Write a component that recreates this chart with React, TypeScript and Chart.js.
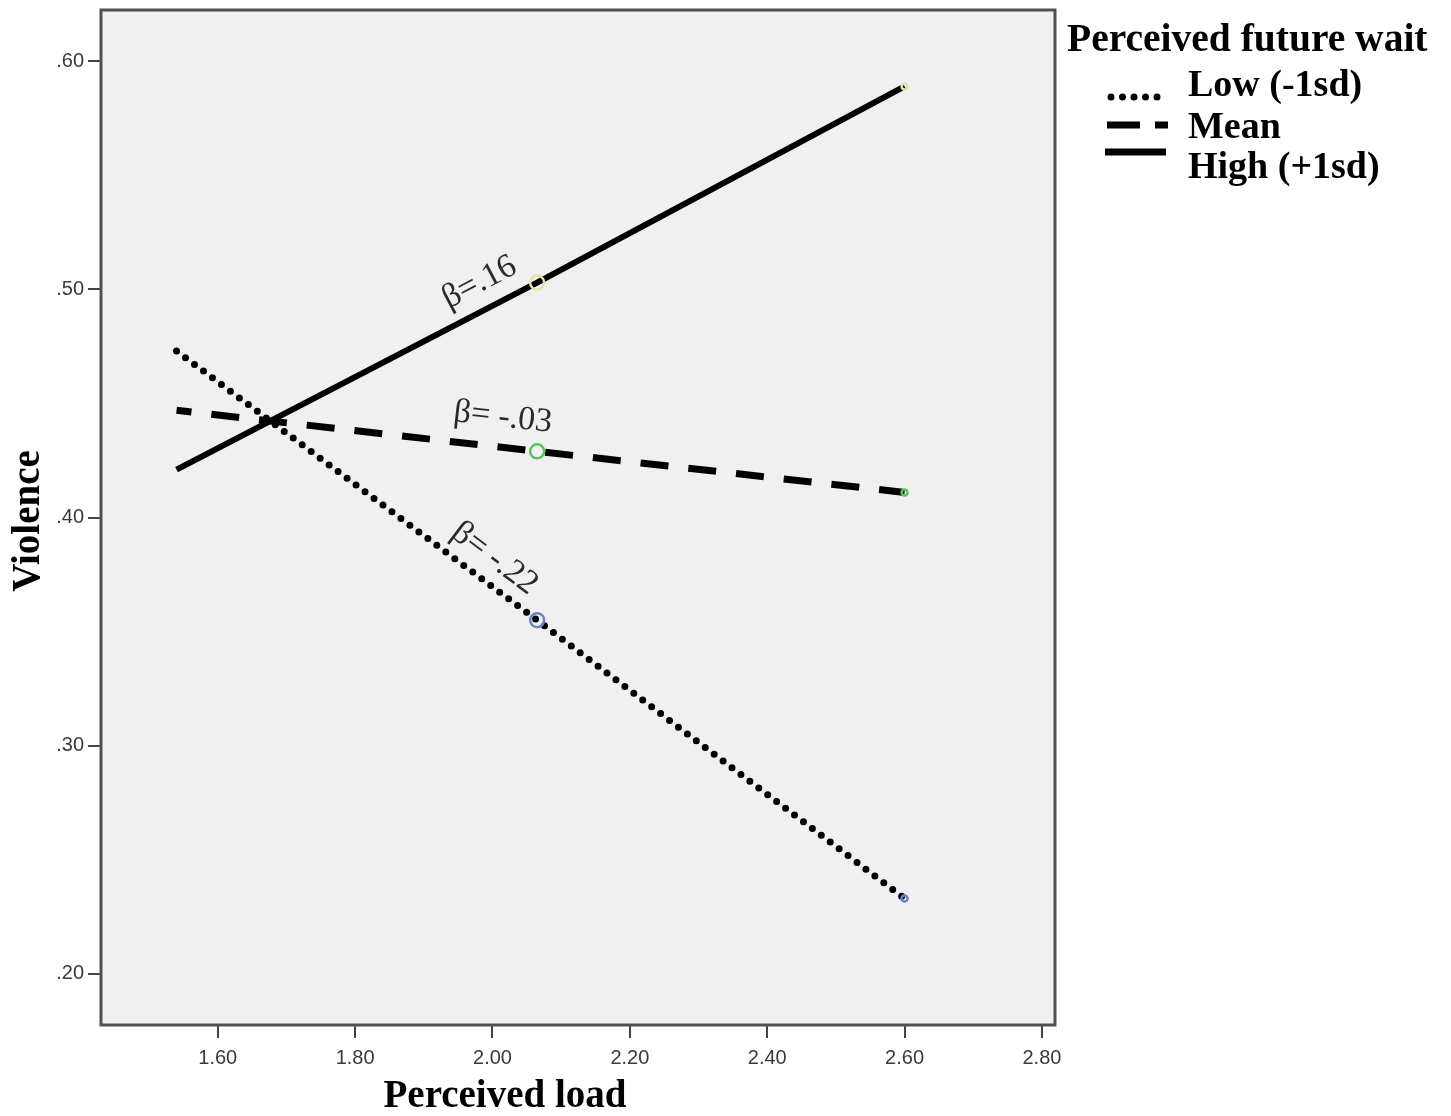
import React, { useEffect, useRef } from "react";
import { Chart, registerables } from "chart.js";

Chart.register(...registerables);

// ---- data ----
const xTicks = [1.6, 1.8, 2.0, 2.2, 2.4, 2.6, 2.8];
const yTicks = [0.2, 0.3, 0.4, 0.5, 0.6];
const loadPoints = [1.54, 2.065, 2.6];
const lowValues = [0.473, 0.355, 0.233];
const meanValues = [0.447, 0.429, 0.411];
const highValues = [0.421, 0.503, 0.589];
const seriesLabels = ["Low (-1sd)", "Mean", "High (+1sd)"];
const markerColors = ["#6f82c8", "#5cc25c", "#e6e2ad"];
const betaLabels = ["β= -.22", "β= -.03", "β=.16"];
const betaX = [2.003, 2.015, 1.981];
const betaY = [0.382, 0.4438, 0.503];
const legendTitle = "Perceived future wait";
const xTitle = "Perceived load";
const yTitle = "Violence";

const SERIF = "'Liberation Serif', 'DejaVu Serif', serif";

const decorPlugin = {
  id: "decor",
  beforeDraw(chart: any) {
    const { ctx, chartArea: a } = chart;
    ctx.save();
    ctx.fillStyle = "#f0f0f0";
    ctx.fillRect(a.left, a.top, a.right - a.left, a.bottom - a.top);
    ctx.restore();
  },
  afterDraw(chart: any) {
    const { ctx, chartArea: a } = chart;
    const xs = chart.scales.x;
    const ys = chart.scales.y;
    ctx.save();
    // frame
    ctx.strokeStyle = "#505050";
    ctx.lineWidth = 3;
    ctx.strokeRect(a.left, a.top, a.right - a.left, a.bottom - a.top);

    // beta annotations
    ctx.fillStyle = "#2a2a2a";
    ctx.font = `34px ${SERIF}`;
    ctx.textAlign = "center";
    ctx.textBaseline = "middle";
    betaLabels.forEach((lbl, i) => {
      const meta = chart.getDatasetMeta(i);
      const p0 = meta.data[0];
      const p1 = meta.data[meta.data.length - 1];
      const ang = Math.atan2(p1.y - p0.y, p1.x - p0.x);
      ctx.save();
      ctx.translate(xs.getPixelForValue(betaX[i]), ys.getPixelForValue(betaY[i]));
      ctx.rotate(ang);
      ctx.fillText(lbl, 0, 0);
      ctx.restore();
    });

    // axis titles
    ctx.fillStyle = "#000";
    ctx.font = `bold 39px ${SERIF}`;
    ctx.textAlign = "center";
    ctx.textBaseline = "middle";
    ctx.fillText(xTitle, 505, 1097);
    ctx.save();
    ctx.translate(29, 521);
    ctx.rotate(-Math.PI / 2);
    ctx.fillText(yTitle, 0, 0);
    ctx.restore();

    // legend
    ctx.textAlign = "left";
    ctx.textBaseline = "alphabetic";
    ctx.font = `bold 39.5px ${SERIF}`;
    ctx.fillText(legendTitle, 1067, 51);
    ctx.font = `bold 38px ${SERIF}`;
    const baselines = [96, 138, 178];
    const sampleY = [97, 125, 152];
    seriesLabels.forEach((lbl, i) => {
      ctx.fillStyle = "#000";
      ctx.fillText(lbl, 1188, baselines[i]);
      ctx.strokeStyle = "#000";
      ctx.beginPath();
      if (i === 0) {
        ctx.lineWidth = 7;
        ctx.lineCap = "round";
        ctx.setLineDash([0, 11.5]);
        ctx.moveTo(1111, sampleY[i]);
        ctx.lineTo(1168, sampleY[i]);
      } else if (i === 1) {
        ctx.lineWidth = 7;
        ctx.lineCap = "butt";
        ctx.setLineDash([33, 15, 13, 100]);
        ctx.moveTo(1107, sampleY[i]);
        ctx.lineTo(1168, sampleY[i]);
      } else {
        ctx.lineWidth = 7;
        ctx.lineCap = "butt";
        ctx.setLineDash([]);
        ctx.moveTo(1105, sampleY[i]);
        ctx.lineTo(1166, sampleY[i]);
      }
      ctx.stroke();
      ctx.setLineDash([]);
    });
    ctx.restore();
  },
};

function toPoints(vals: number[]) {
  return loadPoints.map((x, i) => ({ x, y: vals[i] }));
}

export default function App() {
  const ref = useRef<HTMLCanvasElement | null>(null);
  useEffect(() => {
    if (!ref.current) return;
    const common = {
      fill: false,
      tension: 0,
      pointRadius: [0, 7, 3],
      pointHoverRadius: 0,
      pointBorderWidth: 2.5,
      pointBackgroundColor: "rgba(0,0,0,0)",
      borderColor: "#000",
    };
    const chart = new Chart(ref.current, {
      type: "line",
      data: {
        datasets: [
          {
            ...common,
            label: seriesLabels[0],
            data: toPoints(lowValues),
            borderWidth: 7,
            borderDash: [0, 11.2],
            borderCapStyle: "round",
            pointBorderColor: markerColors[0],
          },
          {
            ...common,
            label: seriesLabels[1],
            data: toPoints(meanValues),
            borderWidth: 7,
            borderDash: [28, 20],
            borderDashOffset: 13,
            borderCapStyle: "butt",
            pointBorderColor: markerColors[1],
          },
          {
            ...common,
            label: seriesLabels[2],
            data: toPoints(highValues),
            borderWidth: 6,
            pointBorderColor: markerColors[2],
          },
        ] as any,
      },
      options: {
        animation: false,
        responsive: false,
        devicePixelRatio: 1,
        events: [],
        layout: { padding: { left: 0, top: 10, right: 396, bottom: 0 } },
        plugins: {
          legend: { display: false },
          tooltip: { enabled: false },
          title: { display: false },
        },
        scales: {
          x: {
            type: "linear",
            min: 1.43,
            max: 2.819,
            afterBuildTicks: (s: any) => {
              s.ticks = xTicks.map((v) => ({ value: v }));
            },
            afterFit: (s: any) => {
              s.height = 91;
              s.paddingLeft = 0;
              s.paddingRight = 0;
            },
            border: { display: false },
            grid: {
              drawOnChartArea: false,
              drawTicks: true,
              tickLength: 13,
              color: "#444",
              lineWidth: 2,
            },
            ticks: {
              autoSkip: false,
              maxRotation: 0,
              padding: 8,
              color: "#3a3a3a",
              font: { family: "'Liberation Sans', Arial, sans-serif", size: 20 },
              callback: (v: any) => Number(v).toFixed(2),
            },
          },
          y: {
            type: "linear",
            min: 0.1775,
            max: 0.6225,
            afterBuildTicks: (s: any) => {
              s.ticks = yTicks.map((v) => ({ value: v }));
            },
            afterFit: (s: any) => {
              s.width = 101;
              s.paddingTop = 0;
              s.paddingBottom = 0;
            },
            border: { display: false },
            grid: {
              drawOnChartArea: false,
              drawTicks: true,
              tickLength: 13,
              color: "#444",
              lineWidth: 2,
            },
            ticks: {
              padding: 4,
              color: "#3a3a3a",
              font: { family: "'Liberation Sans', Arial, sans-serif", size: 20 },
              callback: (v: any) => Number(v).toFixed(2).replace(/^0/, ""),
            },
          },
        },
      } as any,
      plugins: [decorPlugin],
    });
    return () => chart.destroy();
  }, []);

  return (
    <div style={{ position: "absolute", left: 0, top: 0, width: 1451, height: 1116, background: "#fff" }}>
      <canvas ref={ref} width={1451} height={1116} style={{ width: 1451, height: 1116, display: "block" }} />
    </div>
  );
}
